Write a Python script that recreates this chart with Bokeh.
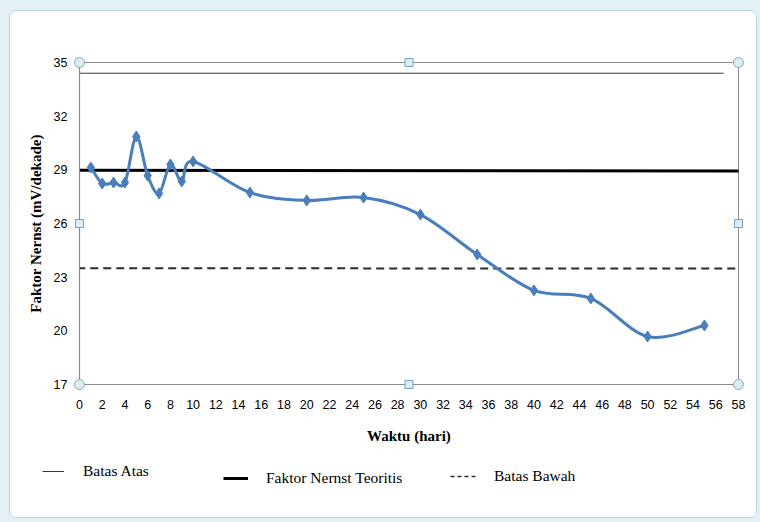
from bokeh.plotting import figure
from bokeh.models import Legend, LegendItem, FixedTicker, Range1d, ColumnDataSource
from bokeh.layouts import column
from bokeh.embed import file_html
from bokeh.resources import INLINE

# ---- data ----
days = [1, 2, 3, 4, 5, 6, 7, 8, 9, 10, 15, 20, 25, 30, 35, 40, 45, 50, 55]
nernst = [29.13, 28.24, 28.29, 28.29, 30.86, 28.68, 27.68, 29.30, 28.35, 29.47,
          27.73, 27.29, 27.45, 26.50, 24.27, 22.26, 21.81, 19.68, 20.30]
batas_atas_x = [0, 56.7]
batas_atas_y = [34.4, 34.4]
teoritis_x = [-0.2, 58.3]
teoritis_y = [28.98, 28.93]
batas_bawah_x = [-0.2, 58.2]
batas_bawah_y = [23.5, 23.48]
x_ticks = list(range(0, 59, 2))
y_ticks = [17, 20, 23, 26, 29, 32, 35]
x_min, x_max = 0, 58
y_min, y_max = 17, 35

# ---- smooth curve (Catmull-Rom -> cubic Bezier control points) ----
n = len(days)
seg = dict(x0=[], y0=[], x1=[], y1=[], cx0=[], cy0=[], cx1=[], cy1=[])
for i in range(n - 1):
    a = max(i - 1, 0)
    d = min(i + 2, n - 1)
    px0, py0 = days[a], nernst[a]
    px1, py1 = days[i], nernst[i]
    px2, py2 = days[i + 1], nernst[i + 1]
    px3, py3 = days[d], nernst[d]
    seg["x0"].append(px1); seg["y0"].append(py1)
    seg["x1"].append(px2); seg["y1"].append(py2)
    seg["cx0"].append(px1 + (px2 - px0) / 6.0); seg["cy0"].append(py1 + (py2 - py0) / 6.0)
    seg["cx1"].append(px2 - (px3 - px1) / 6.0); seg["cy1"].append(py2 - (py3 - py1) / 6.0)

ATAS = dict(line_color="#3a3a3a", line_width=1)
TEO = dict(line_color="black", line_width=3)
BAWAH = dict(line_color="#2b2b2b", line_width=2, line_dash="8 5")

p = figure(width=746, height=446, x_range=Range1d(x_min, x_max), y_range=Range1d(y_min, y_max),
           output_backend="svg", toolbar_location=None,
           min_border_left=69, min_border_right=18, min_border_top=51, min_border_bottom=73)
p.frame_align = False
p.background_fill_color = "white"
p.border_fill_color = "white"
p.outline_line_color = "#8c8c8c"
p.xgrid.grid_line_color = None
p.ygrid.grid_line_color = None

for ax in (p.xaxis, p.yaxis):
    ax.axis_line_color = "#8a8a8a"
    ax.axis_line_width = 1.2
    ax.major_tick_line_color = None
    ax.minor_tick_line_color = None
    ax.major_tick_out = 0
    ax.major_tick_in = 0
    ax.minor_tick_out = 0
    ax.minor_tick_in = 0
    ax.major_label_text_font = "Liberation Sans"
    ax.major_label_text_font_size = "12.5px"
    ax.major_label_text_color = "black"
    ax.axis_label_text_font = "Liberation Serif"
    ax.axis_label_text_font_size = "15px"
    ax.axis_label_text_font_style = "bold"
    ax.axis_label_text_color = "black"

p.xaxis.ticker = FixedTicker(ticks=x_ticks)
p.yaxis.ticker = FixedTicker(ticks=y_ticks)
p.xaxis.major_label_standoff = 15
p.yaxis.major_label_standoff = 12
p.xaxis.axis_label = "Waktu (hari)"
p.yaxis.axis_label = "Faktor Nernst (mV/dekade)"
p.xaxis.axis_label_standoff = 16
p.yaxis.axis_label_standoff = 7

p.line(batas_atas_x, batas_atas_y, **ATAS)
p.line(teoritis_x, teoritis_y, **TEO)
p.line(batas_bawah_x, batas_bawah_y, **BAWAH)

p.bezier(x0="x0", y0="y0", x1="x1", y1="y1", cx0="cx0", cy0="cy0", cx1="cx1", cy1="cy1",
         source=ColumnDataSource(seg), line_color="#4a7ebb", line_width=3)
p.scatter(days, nernst, marker="diamond", size=11, fill_color="#4a7ebb", line_color="#4a7ebb")

# selection handles of the plot area (Excel look)
p.scatter([x_min, x_min, x_max, x_max], [y_min, y_max, y_min, y_max], marker="circle", size=10,
          fill_color="#d8eef3", line_color="#8fa9b0", level="overlay")
xm = (x_min + x_max) / 2
ym = (y_min + y_max) / 2
p.scatter([xm, xm, x_min, x_max], [y_min, y_max, ym, ym], marker="square", size=8,
          fill_color="#d9eef8", line_color="#7b9fc7", level="overlay")

# ---- legend strip (separate figure so that the legends are not clipped) ----
q = figure(width=746, height=60, x_range=Range1d(0, 1), y_range=Range1d(0, 1),
           output_backend="svg", toolbar_location=None, x_axis_type=None, y_axis_type=None,
           min_border=0, min_border_left=0, min_border_right=0, min_border_top=0, min_border_bottom=0)
q.frame_align = False
q.outline_line_color = None
q.xgrid.grid_line_color = None
q.ygrid.grid_line_color = None
q.border_fill_color = "white"
q.background_fill_color = "white"

# legend proxies: same series, lying outside this strip's ranges (so not drawn here)
la = q.line(batas_atas_x, batas_atas_y, line_color="#3a3a3a", line_width=1)
lt = q.line(teoritis_x, teoritis_y, line_color="black", line_width=3)
lb = q.line(batas_bawah_x, batas_bawah_y, line_color="#2b2b2b", line_width=1.3, line_dash="4 3")


def mk_leg(label, r, loc, gw, standoff):
    lg = Legend(items=[LegendItem(label=label, renderers=[r])], location=loc,
                orientation="horizontal", padding=0, margin=0, spacing=0,
                glyph_width=gw, glyph_height=16, label_height=16, label_standoff=standoff,
                label_text_font="Liberation Serif", label_text_font_size="15.5px",
                label_text_color="black",
                border_line_alpha=0, background_fill_alpha=0)
    q.add_layout(lg)


mk_leg("Batas Atas", la, (32, 37), 22, 19)
mk_leg("Faktor Nernst Teoritis", lt, (213, 30.5), 25, 18)
mk_leg("Batas Bawah", lb, (440, 32), 27, 17)

inner = column(p, q, margin=(10, 5, 6, 9),
               styles={"border": "1px solid #b7d2d9", "border-radius": "7px",
                       "overflow": "hidden", "background-color": "white"})
layout = column(inner, width=760, height=522, styles={"background-color": "#e4f1f4"})

open("out.html", "w").write(file_html(layout, INLINE))
